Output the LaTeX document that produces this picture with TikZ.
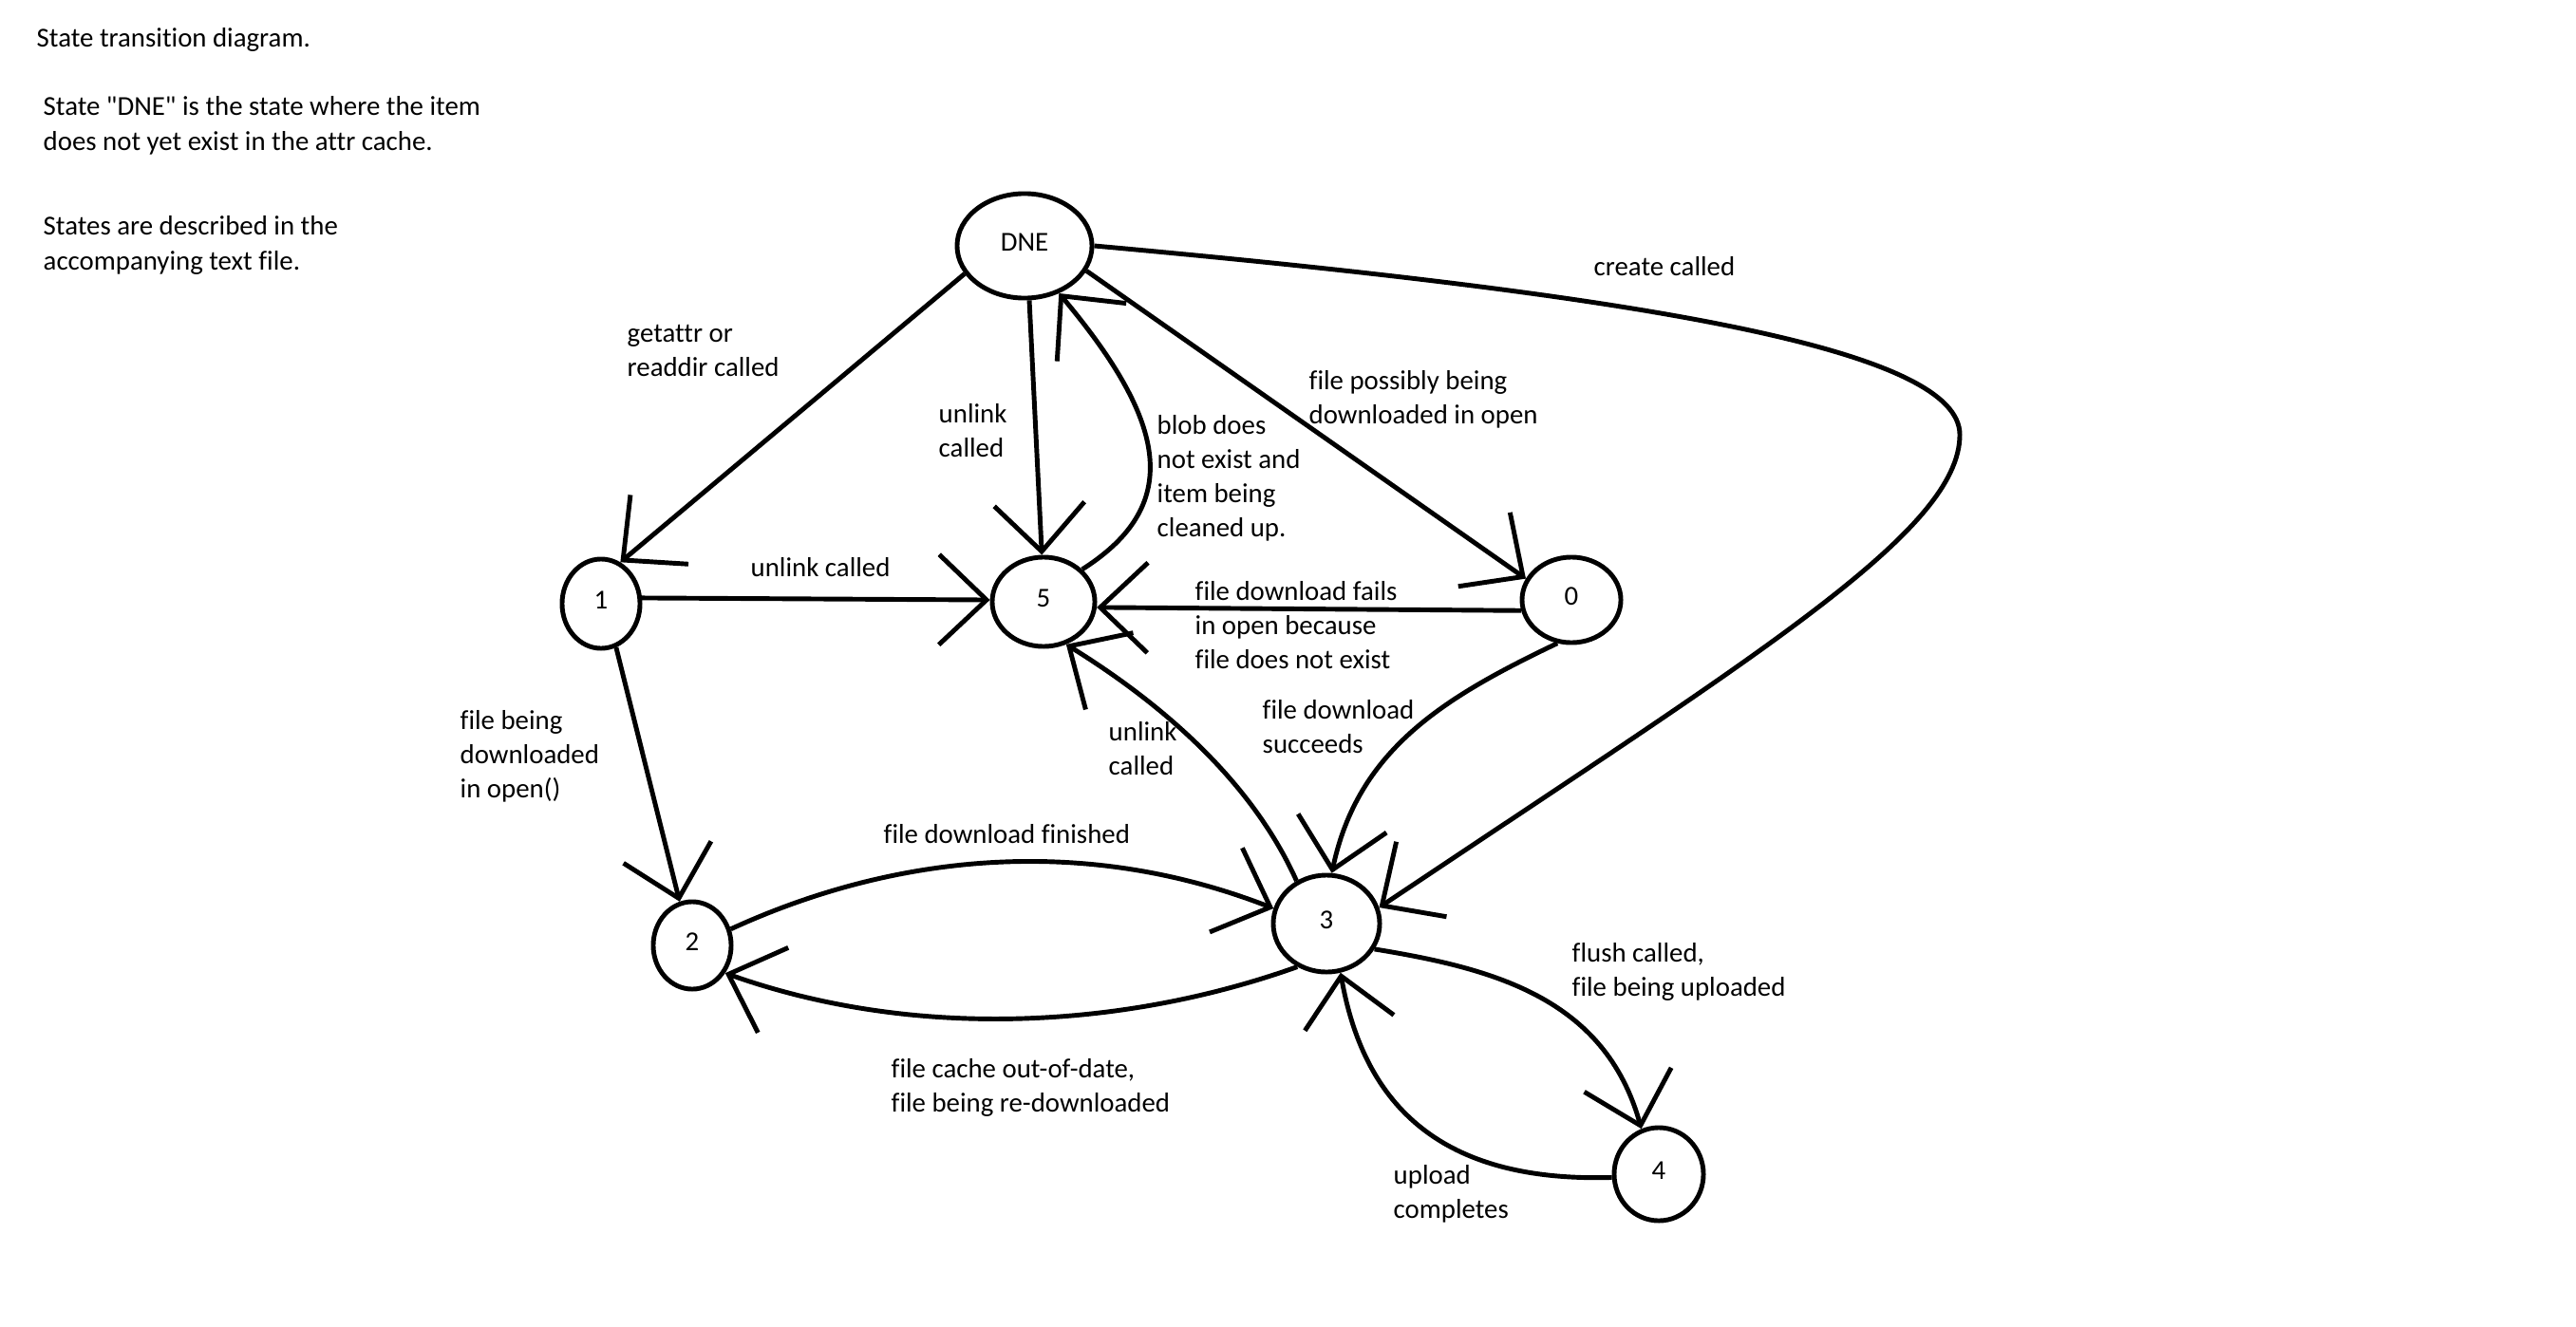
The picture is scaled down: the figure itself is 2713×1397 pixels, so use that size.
\documentclass[tikz,border=0pt]{standalone}
\usepackage{fontspec}
\setmainfont{Carlito}[Ligatures={TeXOff,NoCommon}]
\usetikzlibrary{arrows.meta,shapes.geometric}
% left-aligned multi-line text whose baseline is that of its first line
\newcommand{\mlbl}[1]{\begin{tabular}[t]{@{}l@{}}#1\end{tabular}}
\begin{document}
\begin{tikzpicture}[x=0.01cm, y=-0.01cm,
  every node/.style={font=\fontsize{8.2pt}{10.3pt}\selectfont},
  state/.style={draw, ellipse, line width=1.4pt, inner sep=0pt, text depth=0.08cm},
  lbl/.style={anchor=base west, inner sep=0pt},
  trans/.style={line width=1.4pt, -{Straight Barb[length=5mm,width=9.5mm]}}
]
\path[fill=white] (0,0) rectangle (2713,1397);
\useasboundingbox (0,0) rectangle (2713,1397);

% states
\node[state, minimum width=1.42cm, minimum height=1.10cm] (DNE) at (1079,259) {DNE};
\node[state, minimum width=0.82cm, minimum height=0.94cm] (n1) at (633,636) {1};
\node[state, minimum width=1.08cm, minimum height=0.94cm] (n5) at (1099,634) {5};
\node[state, minimum width=1.04cm, minimum height=0.90cm] (n0) at (1655,632) {0};
\node[state, minimum width=0.82cm, minimum height=0.92cm] (n2) at (729,996) {2};
\node[state, minimum width=1.12cm, minimum height=1.02cm] (n3) at (1397,973) {3};
\node[state, minimum width=0.94cm, minimum height=0.98cm] (n4) at (1747,1237) {4};

% transitions
\draw[trans] (DNE.-155) -- (n1.65);
\draw[trans] (DNE.-85) -- (n5.92);
\draw[trans] (n5.40) .. controls (1250,530) and (1225,440) .. (DNE.-54);
\draw[trans] (DNE.-22) -- (n0.155);
\draw[trans] (DNE.0) .. controls (1750,313) and (2064,370) .. (2064,458)
                     .. controls (2064,560) and (1850,690) .. (n3.17);
\draw[trans] (n1.8) -- (n5.178);
\draw[trans] (n0.-168) -- (n5.-6);
\draw[trans] (n3.125) .. controls (1335,860) and (1270,770) .. (n5.-62);
\draw[trans] (n1.-71) -- (n2.106);
\draw[trans] (n2.23) .. controls (930,905) and (1130,875) .. (n3.164);
\draw[trans] (n3.-124) .. controls (1180,1085) and (960,1095) .. (n2.-40);
\draw[trans] (n0.-108) .. controls (1520,735) and (1430,790) .. (n3.84);
\draw[trans] (n3.-28) .. controls (1570,1020) and (1690,1050) .. (n4.111);
\draw[trans] (n4.-176) .. controls (1540,1245) and (1440,1185) .. (n3.-74);

% notes
\node[lbl] (title) at (38,50) {State transition diagram.};
\node[lbl] (noteA) at (45,122) {\mlbl{State "DNE" is the state where the item\\does not yet exist in the attr cache.}};
\node[lbl] (noteB) at (45,248) {\mlbl{States are described in the\\accompanying text file.}};

% transition labels
\node[lbl] (lCreate) at (1678,290) {create called};
\node[lbl] (lGetattr) at (660,360) {\mlbl{getattr or\\readdir called}};
\node[lbl] (lUnlinkA) at (988,445) {\mlbl{unlink\\called}};
\node[lbl] (lBlob) at (1218,457) {\mlbl{blob does\\not exist and\\item being\\cleaned up.}};
\node[lbl] (lPossibly) at (1378,410) {\mlbl{file possibly being\\downloaded in open}};
\node[lbl] (lUnlinkB) at (790,607) {unlink called};
\node[lbl] (lFails) at (1258,632) {\mlbl{file download fails\\in open because\\file does not exist}};
\node[lbl] (lBeing) at (484,768) {\mlbl{file being\\downloaded\\in open()}};
\node[lbl] (lUnlinkC) at (1167,780) {\mlbl{unlink\\called}};
\node[lbl] (lSucceeds) at (1329,757) {\mlbl{file download\\succeeds}};
\node[lbl] (lFinished) at (930,888) {file download finished};
\node[lbl] (lFlush) at (1655,1013) {\mlbl{flush called,\\file being uploaded}};
\node[lbl] (lStale) at (938,1135) {\mlbl{file cache out-of-date,\\file being re-downloaded}};
\node[lbl] (lUpload) at (1467,1247) {\mlbl{upload\\completes}};
\end{tikzpicture}
\end{document}
